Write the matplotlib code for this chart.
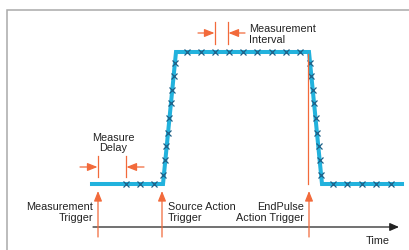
import matplotlib
matplotlib.use("Agg")
import matplotlib.pyplot as plt

# ---- data (time in arbitrary units, level normalised 0=low, 1=high) ----
wave_t = [92, 163, 176, 309, 322, 402]
wave_level = [0, 0, 1, 1, 0, 0]

sample_t = [126, 140, 154,
            163.5, 165, 166.5, 168, 169.5, 171, 172.5, 174, 175.5,
            187, 201, 215, 229, 243, 257, 272, 286, 300,
            310, 311.5, 313, 314.5, 316, 317.5, 319, 320.5, 321.5,
            333, 347, 362, 376, 391]
sample_level = [0, 0, 0,
                0.07, 0.18, 0.29, 0.39, 0.5, 0.61, 0.71, 0.82, 0.92,
                1, 1, 1, 1, 1, 1, 1, 1, 1,
                0.92, 0.82, 0.71, 0.61, 0.5, 0.39, 0.29, 0.18, 0.07,
                0, 0, 0, 0, 0]

trigger_labels = ["Measurement\nTrigger", "Source Action\nTrigger", "EndPulse\nAction Trigger"]
trigger_t = [98, 162, 309]

BLUE = "#22b2dd"
MARK = "#1d5f86"
ORANGE = "#f26a3b"
TEXT = "#222222"

fig = plt.figure(figsize=(4.10, 2.51), dpi=100)
ax = fig.add_axes([0, 0, 1, 1])
ax.set_xlim(0, 410)
ax.set_ylim((185 - 251) / 132, 185 / 132)
ax.axis("off")

ax.plot(wave_t, wave_level, color=BLUE, lw=2.9, solid_joinstyle="miter", zorder=3)
ax.plot(sample_t, sample_level, ls="none", marker="x", ms=4.8, mew=0.9, color=MARK, zorder=4)

# overlay in pixel coordinates for annotations
ov = fig.add_axes([0, 0, 1, 1], facecolor="none")
ov.set_xlim(0, 410)
ov.set_ylim(251, 0)
ov.axis("off")

# frame (left and top)
ov.plot([7, 7, 410], [251, 11, 11], color="#aaaaaa", lw=1.1, solid_joinstyle="miter")

fs = 7.8
fam = ["Liberation Sans", "DejaVu Sans"]
LS = 1.12

def arrow(x0, y0, x1, y1, color=ORANGE, hw=2.4, hl=6.0):
    ov.annotate("", xy=(x1, y1), xytext=(x0, y0),
                arrowprops=dict(arrowstyle=f"-|>,head_width={hw/10:.2f},head_length={hl/10:.2f}",
                                color=color, lw=0.9, shrinkA=0, shrinkB=0))

# time axis
arrow(93, 228, 399, 228, color="#222222", hw=2.4, hl=5.5)
ov.text(378, 241, "Time", ha="center", va="center", fontsize=fs, color=TEXT, family=fam)

# trigger arrows
for x in trigger_t:
    arrow(x, 238, x, 192)
ov.plot([308, 308], [55, 185], color=ORANGE, lw=0.9)

ov.text(93, 212.5, trigger_labels[0], ha="right", va="center", fontsize=fs, color=TEXT,
        family=fam, linespacing=LS, multialignment="right")
ov.text(168, 212.5, trigger_labels[1], ha="left", va="center", fontsize=fs, color=TEXT,
        family=fam, linespacing=LS)
ov.text(304, 212.5, trigger_labels[2], ha="right", va="center", fontsize=fs, color=TEXT,
        family=fam, linespacing=LS, multialignment="right")

# measure delay
ov.plot([98, 98], [157, 178], color=ORANGE, lw=0.9)
ov.plot([126, 126], [157, 178], color=ORANGE, lw=0.9)
arrow(80, 168, 97.5, 168)
arrow(144, 168, 126.5, 168)
ov.text(113, 143, "Measure\nDelay", ha="center", va="center", fontsize=fs, color=TEXT,
        family=fam, linespacing=LS)

# measurement interval
ov.plot([215, 215], [23, 45], color=ORANGE, lw=0.9)
ov.plot([228, 228], [23, 45], color=ORANGE, lw=0.9)
arrow(198, 34, 214.5, 34)
arrow(245, 34, 228.5, 34)
ov.text(249, 34.5, "Measurement\nInterval", ha="left", va="center", fontsize=fs, color=TEXT,
        family=fam, linespacing=LS)

fig.savefig("out.png", dpi=100)
